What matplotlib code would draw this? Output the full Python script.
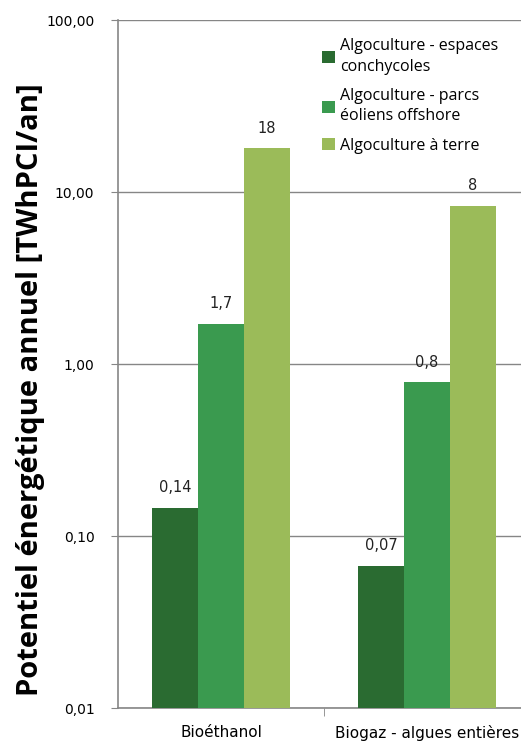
import matplotlib
matplotlib.use("Agg")
import matplotlib.pyplot as plt
import numpy as np
from matplotlib.ticker import FixedLocator

categories = ["Bioéthanol", "Biogaz - algues entières"]
series = ["Algoculture - espaces\nconchycoles",
          "Algoculture - parcs\néoliens offshore",
          "Algoculture à terre"]
values = [
    [0.146, 0.067],
    [1.71, 0.785],
    [18.0, 8.3],
]
labels = [
    ["0,14", "0,07"],
    ["1,7", "0,8"],
    ["18", "8"],
]
yticks = [0.01, 0.1, 1, 10, 100]
yticklabels = ["0,01", "0,10", "1,00", "10,00", "100,00"]
colors = ["#2A6B31", "#3A9A4F", "#9BBB59"]


def main():
	fig = plt.figure(figsize=(5.21, 7.42), dpi=100)
	ax = fig.add_axes([118/521, 34/742, 412/521, 688/742])

	x = np.arange(len(categories))
	w = 0.222
	for i in range(3):
		pos = x + (i - 1) * w
		bars = ax.bar(pos, values[i], width=w, color=colors[i], label=series[i], zorder=3)
		for b, lab in zip(bars, labels[i]):
			ax.annotate(lab, (b.get_x() + b.get_width() / 2, b.get_height()),
				xytext=(0, 9), textcoords="offset points", ha="center", va="bottom",
				fontsize=10.5, family="DejaVu Sans", color="#222222")

	ax.set_yscale("log")
	ax.set_ylim(0.01, 100)
	ax.set_xlim(-0.5, 1.5)
	ax.yaxis.set_major_locator(FixedLocator(yticks))
	ax.set_yticklabels(yticklabels, fontsize=10, family="DejaVu Sans")
	ax.yaxis.set_minor_locator(FixedLocator([]))
	ax.tick_params(axis="y", length=5, color="#868686", pad=12)

	ax.set_xticks(x)
	ax.set_xticklabels(categories, fontsize=11, family="DejaVu Sans")
	ax.tick_params(axis="x", which="major", length=0, pad=12)
	ax.set_xticks([0.5], minor=True)
	ax.tick_params(axis="x", which="minor", length=6, color="#868686")

	ax.grid(axis="y", color="#868686", linewidth=1, zorder=0)
	for s in ["top", "right"]:
		ax.spines[s].set_visible(False)
	for s in ["left", "bottom"]:
		ax.spines[s].set_color("#868686")
		ax.spines[s].set_linewidth(1.2)

	ax.set_ylabel("Potentiel énergétique annuel [TWhPCI/an]", fontsize=21,
		fontweight="bold", family="Open Sans")
	ax.yaxis.set_label_coords(-73/412, 0.462)

	leg = fig.legend(loc="upper left", bbox_to_anchor=(308/521, 1 - 24/742), frameon=False,
		prop={"family": "Open Sans", "size": 11.5}, handlelength=0.8, handleheight=0.8,
		handletextpad=0.3, labelspacing=0.85)
	for t in leg.get_texts():
		t.set_linespacing(1.35)

	plt.savefig("out.png", dpi=100)


if __name__ == "__main__":
	main()
